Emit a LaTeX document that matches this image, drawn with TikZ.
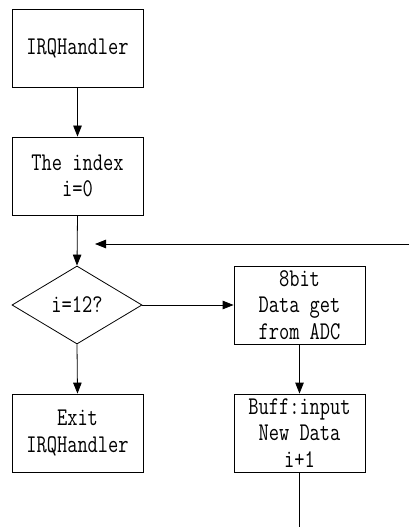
\documentclass[tikz,border=0pt]{standalone}
\usepackage{fontspec}
\setmonofont{Latin Modern Mono}[FakeStretch=0.78]
\usetikzlibrary{shapes.geometric,arrows.meta}
\begin{document}
\begin{tikzpicture}[x=1pt,y=-1pt,
  every node/.style={font=\fontsize{25.5}{26.5}\selectfont\ttfamily},
  box/.style={draw,line width=0.8pt,minimum width=131pt,minimum height=78pt,inner sep=0pt,align=center},
  dec/.style={draw,diamond,line width=0.8pt,minimum width=130pt,minimum height=78pt,aspect=1.667,inner sep=0pt,align=center},
  conn/.style={line width=0.8pt},
  arr/.style={conn,-{Triangle[length=11pt,width=8.5pt]}}]
\useasboundingbox (0,0) rectangle (409,529);
\node[box] (irq) at (77.5,48) {IRQHandler};
\node[box] (idx) at (77.5,176) {The index\\i=0};
\node[dec] (cond) at (77,305) {i=12?};
\node[box] (adc) at (299.5,305) {8bit\\Data get\\from ADC};
\node[box] (buf) at (299.5,433) {Buff:input\\New Data\\i+1};
\node[box] (exit) at (77.5,433) {Exit\\IRQHandler};
\coordinate (loopin) at (409,244);
\coordinate (looptip) at (95,244);
\coordinate (bufend) at (299.5,527);
\draw[arr] (irq.south) -- (idx.north);
\draw[arr] (idx.south) -- (cond.north);
\draw[arr] (loopin) -- (looptip);
\draw[arr] (cond.east) -- (adc.west);
\draw[arr] (adc.south) -- (buf.north);
\draw[arr] (cond.south) -- (exit.north);
\draw[conn] (buf.south) -- (bufend);
\end{tikzpicture}
\end{document}
